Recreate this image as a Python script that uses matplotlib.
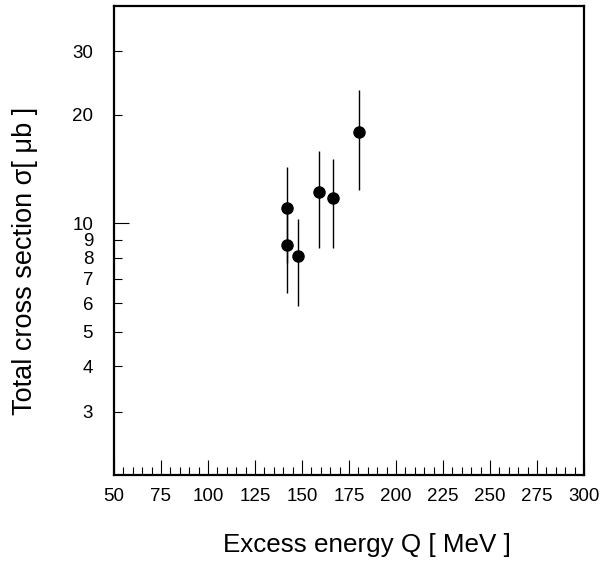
import matplotlib
matplotlib.use("Agg")
import matplotlib.pyplot as plt
from matplotlib.ticker import FixedLocator, FixedFormatter

plt.rcParams['font.family'] = ['Liberation Sans', 'DejaVu Sans']

Q = [142.0, 142.0, 147.7, 159.2, 166.6, 180.5]
sigma = [11.0, 8.67, 8.08, 12.19, 11.76, 17.86]
sig_hi = [14.28, 11.05, 10.24, 15.85, 15.03, 23.37]
sig_lo = [7.73, 6.38, 5.88, 8.51, 8.51, 12.38]

xticks = [50, 75, 100, 125, 150, 175, 200, 225, 250, 275, 300]
y_major = [10]
y_minor = [3, 4, 5, 6, 7, 8, 9, 20, 30]

fig = plt.figure(figsize=(6.0, 5.63), dpi=100)
ax = fig.add_axes([0.19, 0.1563, 0.7833, 0.833])

yerr = [[s - l for s, l in zip(sigma, sig_lo)], [h - s for s, h in zip(sigma, sig_hi)]]
ax.errorbar(Q, sigma, yerr=yerr, fmt='o', color='black', ms=8, elinewidth=1.0,
            capsize=0, zorder=3)

ax.set_yscale('log')
ax.set_xlim(50, 300)
ax.set_ylim(2, 40)

ax.xaxis.set_major_locator(FixedLocator(xticks))
ax.xaxis.set_minor_locator(FixedLocator(list(range(50, 301, 5))))
ax.yaxis.set_major_locator(FixedLocator(y_major))
ax.yaxis.set_minor_locator(FixedLocator(y_minor))
ax.yaxis.set_major_formatter(FixedFormatter([str(v) for v in y_major]))
ax.yaxis.set_minor_formatter(FixedFormatter([str(v) for v in y_minor]))

ax.tick_params(axis='x', which='major', direction='in', length=11, width=0.8,
               labelsize=13.5, pad=9, top=False)
ax.tick_params(axis='x', which='minor', direction='in', length=5.5, width=0.8, top=False)
ax.tick_params(axis='y', which='major', direction='in', length=11, width=0.8,
               labelsize=13.5, pad=15, right=False)
ax.tick_params(axis='y', which='minor', direction='in', length=5.5, width=0.8,
               labelsize=13.5, pad=15, right=False)

for sp in ax.spines.values():
    sp.set_linewidth(1.6)

ax.set_xlabel('Excess energy Q [ MeV ]', fontsize=18.7, va='center')
ax.xaxis.set_label_coords(0.538, -0.149)
ax.set_ylabel('Total cross section σ[ μb ]', fontsize=19.5, va='center')
ax.yaxis.set_label_coords(-0.189, 0.456)

fig.savefig('out.png', dpi=100)
